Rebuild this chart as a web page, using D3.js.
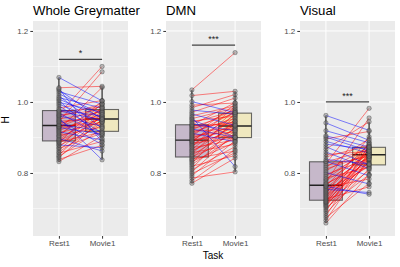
<!DOCTYPE html>
<html>
<head>
<meta charset="utf-8">
<script src="https://cdn.jsdelivr.net/npm/d3@7"></script>
<style>
  body { margin: 0; background: #fff; }
  svg { display: block; font-family: "Liberation Sans", Arial, sans-serif; }
</style>
</head>
<body>
<svg width="400" height="267"></svg>
<script>
// categories + labels
const tasks = ['Rest1', 'Movie1'];
const titles = ['Whole Greymatter', 'DMN', 'Visual'];
const sigLabels = ['*', '***', '***'];
const sigLevels = [1.12, 1.16, 1.0];
const yTicks = [0.8, 1.0, 1.2];
const yMinor = [0.7, 0.9, 1.1];

// paired H values per subject
const wgRest = [0.832, 0.838, 0.843, 0.847, 0.851, 0.856, 0.859, 0.864, 0.869, 0.872, 0.877, 0.879, 0.883, 0.886, 0.888,
    0.891, 0.894, 0.897, 0.901, 0.904, 0.906, 0.910, 0.913, 0.916, 0.919, 0.922, 0.925, 0.928, 0.930, 0.932,
    0.935, 0.937, 0.941, 0.944, 0.946, 0.949, 0.952, 0.955, 0.958, 0.961, 0.963, 0.966, 0.969, 0.972, 0.975,
    0.978, 0.983, 0.989, 0.994, 0.999, 1.004, 1.008, 1.012, 1.017, 1.023, 1.029, 1.034, 1.037, 1.040, 1.069];
const wgMovie = [0.905, 0.878, 0.951, 0.924, 0.962, 0.889, 0.942, 0.968, 0.912, 0.985, 0.934, 0.871, 0.958, 0.996, 0.915,
    0.947, 0.973, 0.862, 0.955, 1.002, 0.929, 0.981, 0.944, 0.893, 0.967, 1.041, 0.951, 0.909, 0.976, 0.938,
    0.990, 0.918, 0.960, 1.085, 0.953, 0.880, 0.972, 0.837, 0.995, 0.931, 0.978, 1.100, 0.905, 0.986, 0.948,
    0.960, 1.004, 0.912, 0.944, 0.971, 0.897, 0.956, 0.983, 0.926, 0.965, 0.994, 0.951, 0.887, 1.044, 1.003];

const dmnRest = [0.771, 0.778, 0.786, 0.792, 0.798, 0.803, 0.809, 0.814, 0.819, 0.824, 0.828, 0.832, 0.836, 0.839, 0.842,
    0.846, 0.850, 0.853, 0.857, 0.860, 0.864, 0.867, 0.871, 0.874, 0.878, 0.881, 0.884, 0.887, 0.889, 0.891,
    0.894, 0.897, 0.900, 0.903, 0.906, 0.909, 0.912, 0.915, 0.918, 0.921, 0.924, 0.927, 0.930, 0.933, 0.935,
    0.938, 0.942, 0.946, 0.950, 0.953, 0.957, 0.961, 0.966, 0.971, 0.977, 0.984, 0.991, 1.001, 1.018, 1.034];
const dmnMovie = [0.842, 0.866, 0.803, 0.891, 0.857, 0.912, 0.874, 0.930, 0.849, 0.903, 0.951, 0.886, 0.918, 0.862, 0.945,
    0.897, 0.925, 0.968, 0.881, 0.936, 0.909, 0.957, 0.893, 0.976, 0.921, 0.940, 0.899, 0.986, 0.927, 0.962,
    0.906, 0.947, 0.931, 0.993, 0.915, 0.972, 0.888, 0.954, 0.924, 0.980, 0.900, 0.944, 0.967, 0.938, 0.998,
    0.919, 0.975, 0.960, 0.901, 0.983, 0.818, 0.989, 0.934, 1.011, 0.965, 1.021, 0.997, 0.970, 1.030, 1.139];

const visRest = [0.659, 0.667, 0.674, 0.680, 0.686, 0.692, 0.697, 0.702, 0.706, 0.709, 0.712, 0.715, 0.717, 0.719, 0.721,
    0.724, 0.727, 0.730, 0.733, 0.736, 0.739, 0.742, 0.745, 0.748, 0.751, 0.754, 0.757, 0.760, 0.762, 0.764,
    0.767, 0.770, 0.774, 0.778, 0.782, 0.786, 0.791, 0.796, 0.801, 0.806, 0.811, 0.816, 0.821, 0.826, 0.831,
    0.833, 0.838, 0.845, 0.852, 0.859, 0.867, 0.874, 0.881, 0.889, 0.896, 0.901, 0.905, 0.919, 0.941, 0.962];
const visMovie = [0.796, 0.843, 0.771, 0.858, 0.812, 0.877, 0.832, 0.795, 0.851, 0.836, 0.868, 0.807, 0.846, 0.886, 0.829,
    0.855, 0.761, 0.842, 0.872, 0.822, 0.849, 0.902, 0.838, 0.864, 0.818, 0.745, 0.857, 0.783, 0.740, 0.881,
    0.845, 0.827, 0.955, 0.853, 0.870, 0.816, 0.861, 0.840, 0.769, 0.874, 0.852, 0.896, 0.847, 0.982, 0.866,
    0.792, 0.825, 0.879, 0.861, 0.812, 0.944, 0.823, 0.867, 0.856, 0.917, 0.862, 0.873, 0.885, 0.892, 0.920];

const restSets = [wgRest, dmnRest, visRest];
const movieSets = [wgMovie, dmnMovie, visMovie];
const boxFill = ['#c6b8ca', '#efe8bf'];

const svg = d3.select('svg');
const panelLeft = [33, 166, 300];
const panelW = 95;
const panelTop = 21, panelBottom = 236;

const y = d3.scaleLinear().domain([0.6225, 1.228]).range([panelBottom, panelTop]);
const x = d3.scalePoint().domain(tasks).range([0, panelW]).padding(0.6);
const boxW = x.step() * 0.76;

function boxStats(vals) {
    const s = vals.slice().sort(d3.ascending);
    const q1 = d3.quantile(s, 0.25), med = d3.quantile(s, 0.5), q3 = d3.quantile(s, 0.75);
    const iqr = q3 - q1;
    const lo = d3.min(s.filter(v => v >= q1 - 1.5 * iqr));
    const hi = d3.max(s.filter(v => v <= q3 + 1.5 * iqr));
    return {q1, med, q3, lo, hi};
}

titles.forEach((title, p) => {
    const g = svg.append('g').attr('transform', `translate(${panelLeft[p]},0)`);
    const rest = restSets[p], movie = movieSets[p];

    g.append('rect')
        .attr('x', 0).attr('y', panelTop)
        .attr('width', panelW).attr('height', panelBottom - panelTop)
        .attr('fill', '#ebebeb');

    // grid
    g.selectAll('.minor').data(yMinor).enter().append('line')
        .attr('x1', 0).attr('x2', panelW)
        .attr('y1', d => y(d)).attr('y2', d => y(d))
        .attr('stroke', '#fff').attr('stroke-width', 0.5);
    g.selectAll('.major').data(yTicks).enter().append('line')
        .attr('x1', 0).attr('x2', panelW)
        .attr('y1', d => y(d)).attr('y2', d => y(d))
        .attr('stroke', '#fff').attr('stroke-width', 1);
    g.selectAll('.vgrid').data(tasks).enter().append('line')
        .attr('x1', d => x(d)).attr('x2', d => x(d))
        .attr('y1', panelTop).attr('y2', panelBottom)
        .attr('stroke', '#fff').attr('stroke-width', 1);

    // axes
    const yAxis = g.append('g')
        .call(d3.axisLeft(y).tickValues(yTicks).tickFormat(d3.format('.1f')).tickSize(2.7).tickPadding(2));
    const xAxis = g.append('g').attr('transform', `translate(0,${panelBottom})`)
        .call(d3.axisBottom(x).tickSize(2.7).tickPadding(2));
    [xAxis, yAxis].forEach(a => {
        a.select('.domain').remove();
        a.selectAll('.tick line').attr('stroke', '#333').attr('stroke-width', 1);
        a.selectAll('.tick text').attr('fill', '#4d4d4d').style('font-size', '8px')
            .style('font-family', '"Liberation Sans", Arial, sans-serif');
    });

    // boxes
    [rest, movie].forEach((vals, k) => {
        const st = boxStats(vals);
        const cx = x(tasks[k]);
        g.append('line')
            .attr('x1', cx).attr('x2', cx)
            .attr('y1', y(st.q3)).attr('y2', y(st.hi))
            .attr('stroke', '#222').attr('stroke-width', 1.2);
        g.append('line')
            .attr('x1', cx).attr('x2', cx)
            .attr('y1', y(st.q1)).attr('y2', y(st.lo))
            .attr('stroke', '#222').attr('stroke-width', 1.2);
        g.append('rect')
            .attr('x', cx - boxW / 2).attr('y', y(st.q3))
            .attr('width', boxW).attr('height', y(st.q1) - y(st.q3))
            .attr('fill', boxFill[k])
            .attr('stroke', '#3a3a3a').attr('stroke-opacity', 0.75).attr('stroke-width', 1.1);
        g.append('line')
            .attr('x1', cx - boxW / 2).attr('x2', cx + boxW / 2)
            .attr('y1', y(st.med)).attr('y2', y(st.med))
            .attr('stroke', '#222').attr('stroke-width', 1.4);
    });

    // paired lines
    g.append('g').selectAll('line').data(rest).enter().append('line')
        .attr('x1', x(tasks[0])).attr('x2', x(tasks[1]))
        .attr('y1', d => y(d)).attr('y2', (d, i) => y(movie[i]))
        .attr('stroke', (d, i) => movie[i] >= d ? '#ff0000' : '#0000ff')
        .attr('stroke-opacity', 0.55).attr('stroke-width', 0.9);

    // points
    [rest, movie].forEach((vals, k) => {
        g.append('g').selectAll('circle').data(vals).enter().append('circle')
            .attr('cx', x(tasks[k])).attr('cy', d => y(d)).attr('r', 2.2)
            .attr('fill', '#7a7a7a').attr('fill-opacity', 0.5)
            .attr('stroke', '#222').attr('stroke-opacity', 0.55).attr('stroke-width', 0.6);
    });

    // significance
    g.append('line')
        .attr('x1', x(tasks[0])).attr('x2', x(tasks[1]))
        .attr('y1', y(sigLevels[p])).attr('y2', y(sigLevels[p]))
        .attr('stroke', '#444').attr('stroke-width', 1.3);
    g.append('text')
        .attr('x', (x(tasks[0]) + x(tasks[1])) / 2).attr('y', y(sigLevels[p]) - 3)
        .attr('text-anchor', 'middle').style('font-size', '9px').attr('fill', '#222')
        .text(sigLabels[p]);

    // title
    g.append('text')
        .attr('x', 0).attr('y', 15)
        .style('font-size', '13.2px').attr('fill', '#000')
        .text(title);
});

svg.append('text')
    .attr('transform', 'translate(9,120) rotate(-90)')
    .attr('text-anchor', 'middle').style('font-size', '10px')
    .text('H');
svg.append('text')
    .attr('x', 213).attr('y', 259)
    .attr('text-anchor', 'middle').style('font-size', '10px')
    .text('Task');
</script>
</body>
</html>
